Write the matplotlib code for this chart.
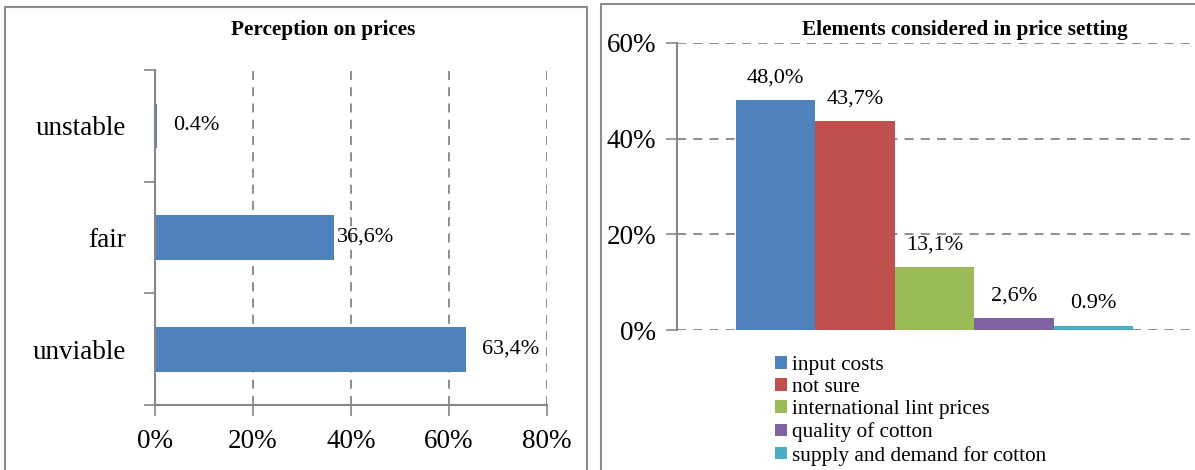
import matplotlib.pyplot as plt
from matplotlib.patches import Rectangle
from matplotlib.ticker import PercentFormatter

plt.rcParams["font.family"] = ["Liberation Serif", "DejaVu Serif"]

# left chart: perception on prices
perc_cats = ["unviable", "fair", "unstable"]
perc_vals = [0.634, 0.366, 0.004]
perc_labels = ["63,4%", "36,6%", "0.4%"]

# right chart: elements considered in price setting
elem_cats = ["input costs", "not sure", "international lint prices",
             "quality of cotton", "supply and demand for cotton"]
elem_vals = [0.480, 0.437, 0.131, 0.026, 0.009]
elem_labels = ["48,0%", "43,7%", "13,1%", "2,6%", "0.9%"]
elem_colors = ["#4F81BD", "#C0504D", "#9BBB59", "#8064A2", "#4BACC6"]

W, H = 1195, 470
fig = plt.figure(figsize=(W / 100, H / 100), dpi=100)
grid_c = "#868686"

# panel borders
fig.add_artist(Rectangle((5 / W, -0.1), (587 - 5) / W, 1.1 - 7 / H,
                         transform=fig.transFigure, fill=False, ec="#8c8c8c", lw=1.5))
fig.add_artist(Rectangle((601 / W, -0.1), 0.5, 1.1 - 4 / H,
                         transform=fig.transFigure, fill=False, ec="#8c8c8c", lw=1.5))

# ---- left chart ----
ax1 = fig.add_axes([155 / W, (H - 405) / H, (547 - 155) / W, (405 - 70) / H])
ypos = range(len(perc_cats))
ax1.barh(ypos, perc_vals, height=0.4, color="#4F81BD")
ax1.set_xlim(0, 0.8)
ax1.set_ylim(-0.5, len(perc_cats) - 0.5)
ax1.set_xticks([0, 0.2, 0.4, 0.6, 0.8])
ax1.xaxis.set_major_formatter(PercentFormatter(1.0, decimals=0))
ax1.set_yticks(list(ypos))
ax1.set_yticklabels(perc_cats)
ax1.set_yticks([-0.5, 0.5, 1.5, 2.5], minor=True)
ax1.tick_params(axis="y", which="major", length=0, pad=21, labelsize=19.5)
ax1.tick_params(axis="y", which="minor", length=8, color=grid_c, width=1.2)
ax1.tick_params(axis="x", length=8, color=grid_c, width=1.2, labelsize=19.5, pad=9)
ax1.grid(axis="x", color=grid_c, linestyle=(0, (5, 4)), lw=1.3)
ax1.set_axisbelow(True)
for s in ["top", "right"]:
    ax1.spines[s].set_visible(False)
for s in ["left", "bottom"]:
    ax1.spines[s].set_color(grid_c)
    ax1.spines[s].set_linewidth(1.5)
offsets = [16, 3, 16]
for y, v, lab, off in zip(ypos, perc_vals, perc_labels, offsets):
    ax1.annotate(lab, (v, y), xytext=(off * 0.72, 0), textcoords="offset points",
                 va="center", ha="left", fontsize=16)
fig.text(323 / W, 1 - 30 / H, "Perception on prices", ha="center", va="center",
         fontsize=15.3, fontweight="bold")

# ---- right chart ----
ax2 = fig.add_axes([677 / W, (H - 330) / H, (1195 - 677) / W, (330 - 43) / H])
xpos = range(len(elem_cats))
bars = ax2.bar(xpos, elem_vals, width=1.0, color=elem_colors, label=elem_cats)
unit = (1133 - 736) / 5
ax2.set_xlim(-0.5 - (736 - 677) / unit, 4.5 + (1195 - 1133) / unit)
ax2.set_ylim(0, 0.6)
ax2.set_yticks([0, 0.2, 0.4, 0.6])
ax2.yaxis.set_major_formatter(PercentFormatter(1.0, decimals=0))
ax2.set_xticks([])
ax2.tick_params(axis="y", length=8, color=grid_c, width=1.2, labelsize=19.5, pad=7)
ax2.grid(axis="y", color=grid_c, linestyle=(0, (5, 4)), lw=1.3)
ax2.set_axisbelow(True)
for s in ["top", "right", "bottom"]:
    ax2.spines[s].set_visible(False)
ax2.spines["left"].set_color(grid_c)
ax2.spines["left"].set_linewidth(1.5)
for x, v, lab in zip(xpos, elem_vals, elem_labels):
    ax2.annotate(lab, (x, v), xytext=(0, 9), textcoords="offset points",
                 ha="center", va="bottom", fontsize=16)
ax2.legend(loc="upper left", bbox_to_anchor=(775 / W, 1 - 356 / H),
           bbox_transform=fig.transFigure, frameon=False, fontsize=15.3,
           handlelength=0.55, handleheight=0.55, handletextpad=0.25,
           labelspacing=0.15, borderpad=0, borderaxespad=0)
fig.text(965 / W, 1 - 30 / H, "Elements considered in price setting", ha="center",
         va="center", fontsize=15.3, fontweight="bold")

fig.savefig("out.png", dpi=100)
